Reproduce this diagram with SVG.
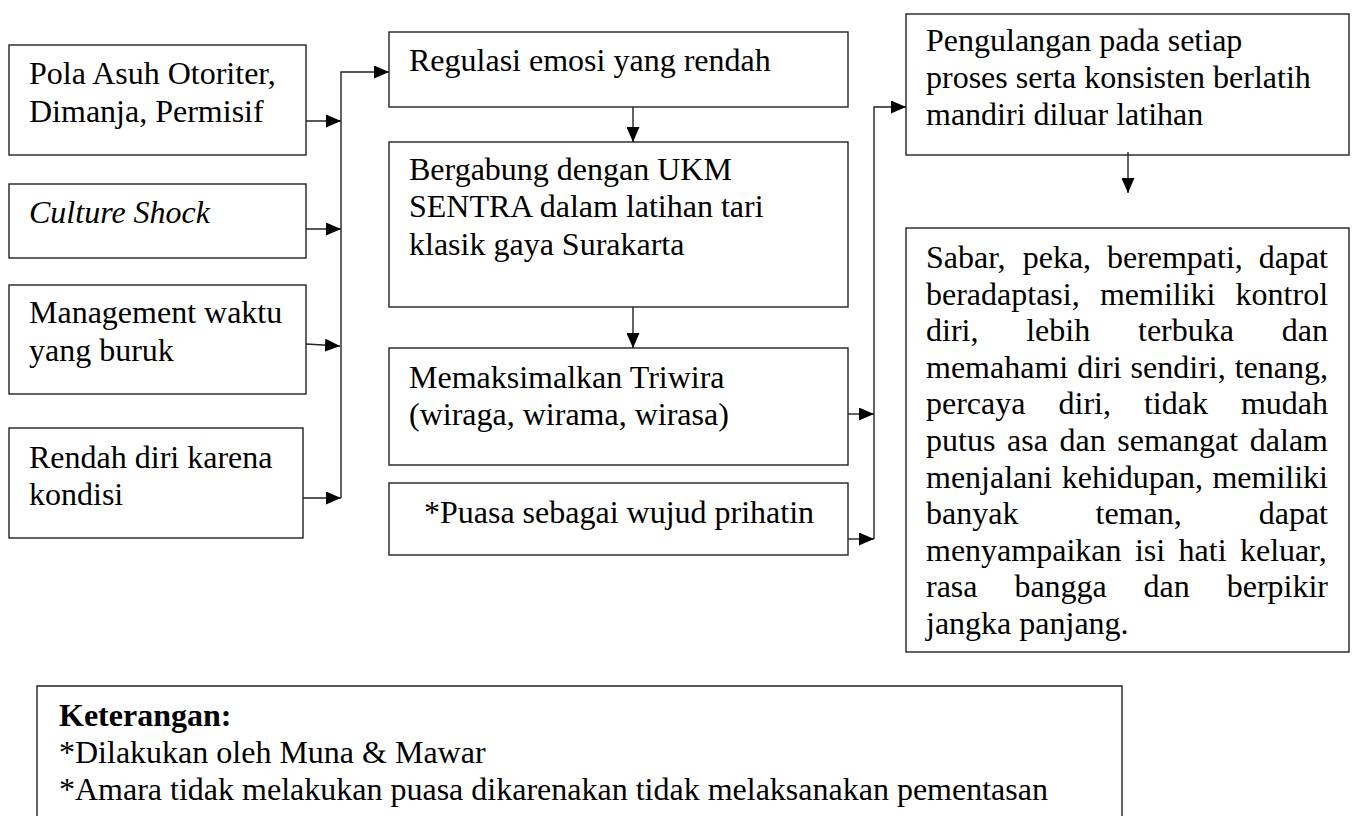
<svg xmlns="http://www.w3.org/2000/svg" width="1357" height="816" viewBox="0 0 1357 816">
<style>
.box{fill:#fff;stroke:#222;stroke-width:1.4}
.ln{fill:none;stroke:#222;stroke-width:1.4}
text{font-family:"Liberation Serif","Times New Roman",serif;font-size:32px;fill:#000}
</style>
<defs>
<marker id="ah" markerUnits="userSpaceOnUse" markerWidth="15" markerHeight="13" refX="15" refY="6.5" orient="auto">
<path d="M0,0 L15,6.5 L0,13 Z" fill="#000"/>
</marker>
</defs>
<rect width="1357" height="816" fill="#fff"/>

<g id="n-pola">
<rect class="box" x="9" y="45" width="297" height="110"/>
<text x="29" y="84">Pola Asuh Otoriter,</text>
<text x="29" y="122">Dimanja, Permisif</text>
</g>
<g id="n-culture">
<rect class="box" x="9" y="184" width="297" height="74"/>
<text x="29" y="223" font-style="italic">Culture Shock</text>
</g>
<g id="n-management">
<rect class="box" x="9" y="285" width="297" height="109"/>
<text x="29" y="323">Management waktu</text>
<text x="29" y="361">yang buruk</text>
</g>
<g id="n-rendah">
<rect class="box" x="9" y="428" width="294" height="110"/>
<text x="29" y="468">Rendah diri karena</text>
<text x="29" y="505">kondisi</text>
</g>

<g id="n-regulasi">
<rect class="box" x="389" y="32" width="459" height="75"/>
<text x="409" y="71">Regulasi emosi yang rendah</text>
</g>
<g id="n-bergabung">
<rect class="box" x="389" y="142" width="459" height="165"/>
<text x="409" y="180">Bergabung dengan UKM</text>
<text x="409" y="217">SENTRA dalam latihan tari</text>
<text x="409" y="255">klasik gaya Surakarta</text>
</g>
<g id="n-triwira">
<rect class="box" x="389" y="348" width="459" height="117"/>
<text x="409" y="388">Memaksimalkan Triwira</text>
<text x="409" y="425">(wiraga, wirama, wirasa)</text>
</g>
<g id="n-puasa">
<rect class="box" x="389" y="483" width="459" height="72"/>
<text x="619" y="523" text-anchor="middle">*Puasa sebagai wujud prihatin</text>
</g>

<g id="n-pengulangan">
<rect class="box" x="906" y="14" width="443" height="141"/>
<text x="926" y="51">Pengulangan pada setiap</text>
<text x="926" y="88">proses serta konsisten berlatih</text>
<text x="926" y="125">mandiri diluar latihan</text>
</g>
<g id="n-hasil">
<rect class="box" x="906" y="228" width="443" height="424"/>
<text y="268"><tspan x="926">Sabar,</tspan><tspan x="1022.7">peka,</tspan><tspan x="1106.9">berempati,</tspan><tspan x="1258.7">dapat</tspan></text>
<text y="304.6"><tspan x="926">beradaptasi,</tspan><tspan x="1099.9">memiliki</tspan><tspan x="1235.6">kontrol</tspan></text>
<text y="341.2"><tspan x="926">diri,</tspan><tspan x="1026.2">lebih</tspan><tspan x="1138">terbuka</tspan><tspan x="1281.8">dan</tspan></text>
<text y="377.8"><tspan x="926">memahami</tspan><tspan x="1077.2">diri</tspan><tspan x="1130.6">sendiri,</tspan><tspan x="1234.7">tenang,</tspan></text>
<text y="414.4"><tspan x="926">percaya</tspan><tspan x="1058.5">diri,</tspan><tspan x="1143.9">tidak</tspan><tspan x="1240.9">mudah</tspan></text>
<text y="451"><tspan x="926">putus</tspan><tspan x="1007">asa</tspan><tspan x="1059.5">dan</tspan><tspan x="1117.3">semangat</tspan><tspan x="1249.8">dalam</tspan></text>
<text y="487.6"><tspan x="926">menjalani</tspan><tspan x="1061.7">kehidupan,</tspan><tspan x="1212.4">memiliki</tspan></text>
<text y="524.2"><tspan x="926">banyak</tspan><tspan x="1095.5">teman,</tspan><tspan x="1258.7">dapat</tspan></text>
<text y="560.8"><tspan x="926">menyampaikan</tspan><tspan x="1134.9">isi</tspan><tspan x="1178.6">hati</tspan><tspan x="1240">keluar,</tspan></text>
<text y="597.4"><tspan x="926">rasa</tspan><tspan x="1014.4">bangga</tspan><tspan x="1143.6">dan</tspan><tspan x="1226.7">berpikir</tspan></text>
<text x="926" y="634">jangka panjang.</text>
</g>

<g id="n-keterangan">
<path class="ln" d="M37,830 V686 H1122 V830"/>
<text x="59" y="726" font-weight="bold">Keterangan:</text>
<text x="59" y="763">*Dilakukan oleh Muna &amp; Mawar</text>
<text x="59" y="800">*Amara tidak melakukan puasa dikarenakan tidak melaksanakan pementasan</text>
</g>

<g id="connectors">
<line class="ln" x1="306" y1="121" x2="341" y2="121" marker-end="url(#ah)"/>
<line class="ln" x1="306" y1="229" x2="341" y2="229" marker-end="url(#ah)"/>
<line class="ln" x1="306" y1="344" x2="340" y2="346" marker-end="url(#ah)"/>
<line class="ln" x1="303" y1="498" x2="341" y2="498" marker-end="url(#ah)"/>
<path class="ln" d="M341,498 V72 H389" marker-end="url(#ah)"/>
<line class="ln" x1="633" y1="107" x2="633" y2="142" marker-end="url(#ah)"/>
<line class="ln" x1="633" y1="307" x2="633" y2="348" marker-end="url(#ah)"/>
<line class="ln" x1="848" y1="414" x2="874" y2="414" marker-end="url(#ah)"/>
<line class="ln" x1="848" y1="539" x2="874" y2="539" marker-end="url(#ah)"/>
<path class="ln" d="M874,539 V107 H906" marker-end="url(#ah)"/>
<line class="ln" x1="1128" y1="152" x2="1128" y2="193" marker-end="url(#ah)"/>
</g>
</svg>
